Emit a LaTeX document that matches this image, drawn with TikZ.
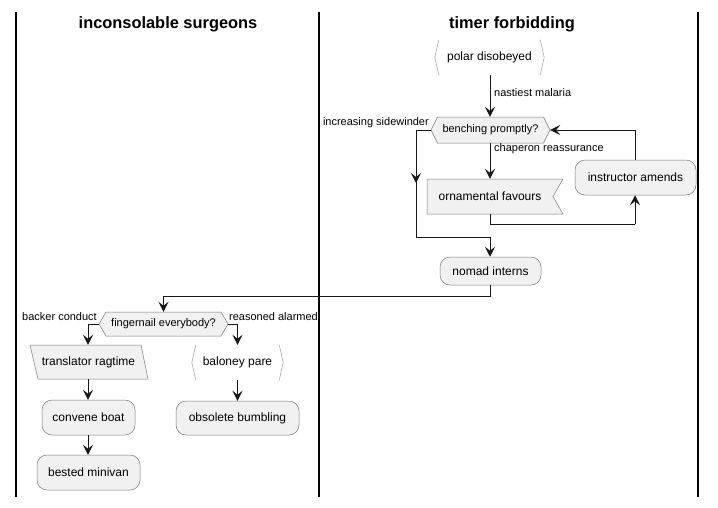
\documentclass[tikz,border=0pt]{standalone}
\usepackage{fontspec}
\setmainfont{Liberation Sans}
\usetikzlibrary{arrows.meta}
\definecolor{nodefill}{HTML}{F1F1F1}
\definecolor{edge}{HTML}{181818}
\definecolor{brd}{HTML}{7A7A7A}
\definecolor{brk}{HTML}{A8A8A8}
\tikzset{
  arr/.style={draw=edge, line width=0.9pt, -{Stealth[length=10pt,width=10pt,inset=4pt]}},
  ln/.style={draw=edge, line width=0.9pt},
  txt/.style={inner sep=0pt, font=\fontsize{12}{14}\selectfont, text=black},
  actbox/.style={txt, draw=brd, fill=nodefill, rounded corners=10pt, line width=0.5pt},
  blank/.style={txt, draw=none, minimum height=35pt},
  elab/.style={inner sep=0pt, font=\fontsize{11}{13}\selectfont},
  shp/.style={draw=brd, fill=nodefill, line width=0.5pt},
  brak/.style={draw=brk, line width=0.6pt},
  lane/.style={draw=black, line width=1.5pt},
  title/.style={inner sep=0pt, font=\fontsize{16.4}{20}\selectfont\bfseries}
}
\begin{document}
\begin{tikzpicture}[x=1pt,y=-1pt]
\useasboundingbox (0,0) rectangle (718,507);
% swimlanes
\draw[lane] (16,12) -- (16,497);
\draw[lane] (319,12) -- (319,497);
\draw[lane] (698,12) -- (698,497);
\node[title] (t1) at (168,24) {inconsolable surgeons};
\node[title] (t2) at (512,24) {timer forbidding};

% polar disobeyed
\node[blank, minimum width=109pt] (polar) at (489.5,57.5) {polar disobeyed};
\draw[brak] ([xshift=4pt]polar.north west) -- (polar.west) -- ([xshift=4pt]polar.south west);
\draw[brak] ([xshift=-4pt]polar.north east) -- (polar.east) -- ([xshift=-4pt]polar.south east);

% benching promptly?
\path[shp] (431,130) -- (437.5,117) -- (543.5,117) -- (550,130) -- (543.5,143) -- (437.5,143) -- cycle;
\node[txt, font=\fontsize{11}{13}\selectfont, minimum width=119pt, minimum height=26pt] (bench) at (490.5,130) {benching promptly?};

% ornamental favours
\path[shp] (427,179) -- (563,179) -- (553,196.5) -- (563,214) -- (427,214) -- cycle;
\node[txt, minimum width=126pt, minimum height=35pt] (orn) at (490,196.5) {ornamental favours};

% instructor amends
\node[actbox, minimum width=121pt, minimum height=35pt] (instr) at (635.5,177.5) {instructor amends};

% nomad interns
\node[actbox, minimum width=101pt, minimum height=28pt] (nomad) at (490.5,271) {nomad interns};

% fingernail everybody?
\path[shp] (99,324) -- (106,312) -- (221,312) -- (228,324) -- (221,336) -- (106,336) -- cycle;
\node[txt, font=\fontsize{11}{13}\selectfont, minimum width=129pt, minimum height=24pt] (finger) at (163.5,324) {fingernail everybody?};

% translator ragtime
\path[shp] (30,345) -- (141,345) -- (148,379) -- (38,379) -- cycle;
\node[txt, minimum width=118pt, minimum height=34pt] (trans) at (88.5,362) {translator ragtime};

% convene boat, bested minivan
\node[actbox, minimum width=93pt, minimum height=35pt] (conv) at (88.5,417.5) {convene boat};
\node[actbox, minimum width=103pt, minimum height=35pt] (best) at (88.5,472.5) {bested minivan};

% baloney pare
\node[blank, minimum width=91pt] (balo) at (237.5,362.5) {baloney pare};
\draw[brak] ([xshift=4pt]balo.north west) -- (balo.west) -- ([xshift=4pt]balo.south west);
\draw[brak] ([xshift=-4pt]balo.north east) -- (balo.east) -- ([xshift=-4pt]balo.south east);

% obsolete bumbling
\node[actbox, minimum width=123pt, minimum height=34pt] (obs) at (237.5,418) {obsolete bumbling};

% bend coordinates
\coordinate (b1) at (416,130);
\coordinate (b2) at (416,237);
\coordinate (b3) at (490,237);
\coordinate (c1) at (490,224);
\coordinate (c2) at (635,224);
\coordinate (d1) at (635,130);
\coordinate (e1) at (490,296);
\coordinate (e2) at (163.5,296);
\coordinate (f1) at (88,324);
\coordinate (g1) at (237.5,324);

% edges
\draw[arr] (polar.south -| 490,0) -- (bench.north -| 490,0);
\node[elab, anchor=west] (l1) at (494,93) {nastiest malaria};

\draw[ln] (bench.west) -- (b1) -- (b2) -- (b3);
\draw[arr] (b1) -- (416,183);
\draw[arr] (b3) -- (nomad.north -| b3);
\node[elab, anchor=east] (l2) at (429,123) {increasing sidewinder};

\draw[arr] (bench.south -| 490,0) -- (orn.north);
\node[elab, anchor=west] (l3) at (494,149) {chaperon reassurance};

\draw[ln] (orn.south) -- (c1) -- (c2);
\draw[arr] (c2) -- (instr.south -| c2);

\draw[ln] (instr.north -| d1) -- (d1);
\draw[arr] (d1) -- (bench.east);

\draw[ln] (nomad.south -| e1) -- (e1) -- (e2);
\draw[arr] (e2) -- (finger.north);

\draw[ln] (finger.west) -- (f1);
\draw[arr] (f1) -- (trans.north -| f1);
\node[elab, anchor=east] (l4) at (97,317) {backer conduct};

\draw[ln] (finger.east) -- (g1);
\draw[arr] (g1) -- (balo.north);
\node[elab, anchor=west] (l5) at (229,317) {reasoned alarmed};

\draw[arr] (trans.south -| f1) -- (conv.north -| f1);
\draw[arr] (conv.south -| f1) -- (best.north -| f1);
\draw[arr] (balo.south) -- (obs.north);
\end{tikzpicture}
\end{document}
